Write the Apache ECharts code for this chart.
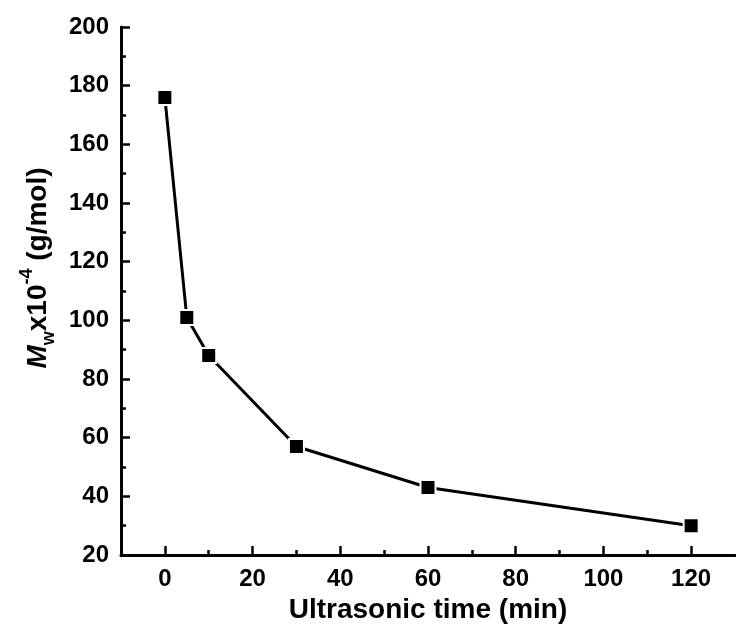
<!DOCTYPE html>
<html>
<head>
<meta charset="utf-8">
<script src="https://cdn.jsdelivr.net/npm/echarts@6/dist/echarts.min.js"></script>
<style>html,body{margin:0;padding:0;background:#fff;}#c{width:736px;height:630px;}</style>
</head>
<body>
<div id="c"></div>
<script>
var timeMin = [0, 5, 10, 30, 60, 120];
var mwValues = [176, 101, 88, 57, 43, 30];
var xMajorTicks = [0, 20, 40, 60, 80, 100, 120];
var xMinorTicks = [10, 30, 50, 70, 90, 110];

var chart = echarts.init(document.getElementById('c'));
var font = '"Liberation Sans", Arial, sans-serif';
var pts = timeMin.map(function (t, i) { return [t, mwValues[i]]; });

chart.setOption({
  animation: false,
  backgroundColor: '#fff',
  grid: { left: 121, right: 1, top: 27, bottom: 75, containLabel: false, outerBoundsMode: 'none' },
  xAxis: [{
    type: 'value', min: -10, max: 130, position: 'bottom',
    name: 'Ultrasonic time (min)', nameLocation: 'middle', nameGap: 40,
    nameTextStyle: { fontFamily: font, fontWeight: 'bold', fontSize: 28, color: '#000' },
    axisLine: { show: true, onZero: false, lineStyle: { color: '#000', width: 3 } },
    axisTick: { show: true, inside: true, length: 9, customValues: xMajorTicks, lineStyle: { color: '#000', width: 2.5 } },
    axisLabel: { show: true, customValues: xMajorTicks, margin: 12, fontFamily: font, fontWeight: 'bold', fontSize: 24, color: '#000' },
    splitLine: { show: false }
  }, {
    type: 'value', min: -10, max: 130, position: 'bottom', gridIndex: 0,
    axisLine: { show: false, onZero: false },
    axisTick: { show: true, inside: true, length: 5, customValues: xMinorTicks, lineStyle: { color: '#000', width: 2.5 } },
    axisLabel: { show: false },
    splitLine: { show: false }
  }],
  yAxis: {
    type: 'value', min: 20, max: 200, interval: 20,
    name: '{i|M}{sub|w}{n|x10}{sup|-4}{n| (g/mol)}', nameLocation: 'middle', nameGap: 62,
    nameRotate: 90,
    nameTextStyle: {
      fontFamily: font, fontWeight: 'bold', fontSize: 28, color: '#000',
      padding: [0, 0, 0, 46],
      rich: {
        i: { fontFamily: font, fontWeight: 'bold', fontStyle: 'italic', fontSize: 28, color: '#000', lineHeight: 40, verticalAlign: 'middle' },
        n: { fontFamily: font, fontWeight: 'bold', fontSize: 28, color: '#000', lineHeight: 40, verticalAlign: 'middle' },
        sub: { fontFamily: font, fontWeight: 'bold', fontSize: 18, color: '#000', lineHeight: 22, verticalAlign: 'bottom' },
        sup: { fontFamily: font, fontWeight: 'bold', fontSize: 18, color: '#000', lineHeight: 22, verticalAlign: 'top' }
      }
    },
    axisLine: { show: true, onZero: false, lineStyle: { color: '#000', width: 3 } },
    axisTick: { show: true, inside: true, length: 9, lineStyle: { color: '#000', width: 2.5 } },
    minorTick: { show: true, splitNumber: 2, length: 5, lineStyle: { color: '#000', width: 2.5 } },
    axisLabel: { margin: 12, fontFamily: font, fontWeight: 'bold', fontSize: 24, color: '#000' },
    splitLine: { show: false }
  },
  series: [{
    type: 'line', xAxisIndex: 0, data: pts,
    symbol: 'rect', symbolSize: 15,
    lineStyle: { color: '#000', width: 3 },
    itemStyle: { color: '#000', borderColor: '#fff', borderWidth: 2 }
  }]
});
</script>
</body>
</html>
